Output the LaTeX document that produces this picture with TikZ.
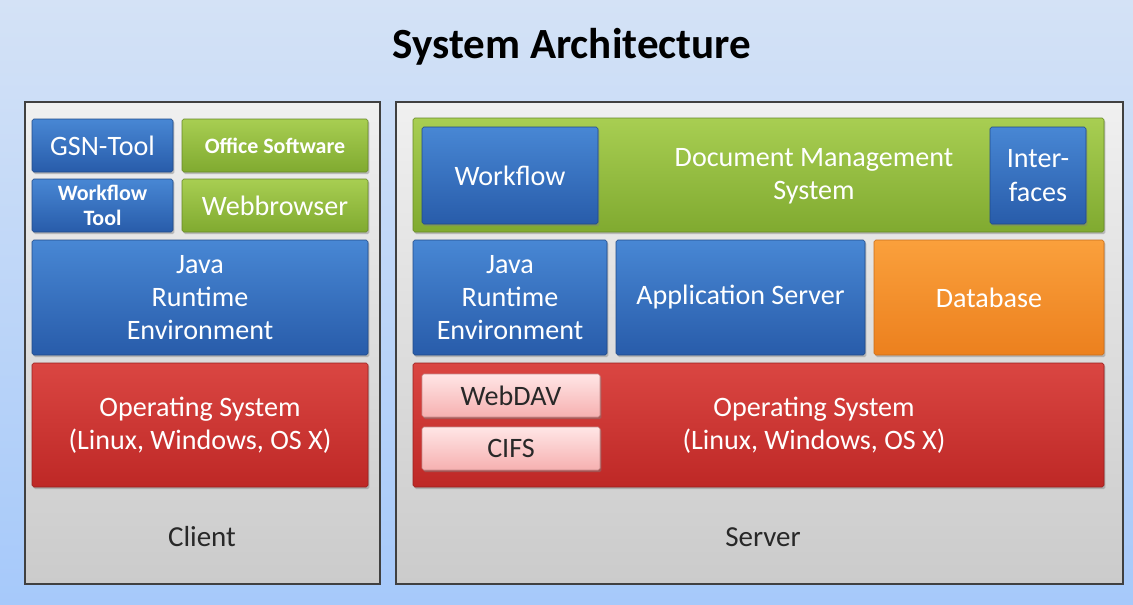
\documentclass[tikz,border=0pt]{standalone}
\usepackage{fontspec}
\setmainfont{Carlito}
\usetikzlibrary{shadows}
\definecolor{bgtop}{RGB}{212,226,246}
\definecolor{bgbot}{RGB}{166,201,250}
\definecolor{paneltop}{RGB}{240,240,240}
\definecolor{panelbot}{RGB}{203,203,203}
\definecolor{bluetop}{RGB}{72,135,212}
\definecolor{bluebot}{RGB}{40,92,170}
\definecolor{greentop}{RGB}{168,206,82}
\definecolor{greenbot}{RGB}{128,170,48}
\definecolor{orangetop}{RGB}{250,160,60}
\definecolor{orangebot}{RGB}{236,128,30}
\definecolor{redtop}{RGB}{218,70,66}
\definecolor{redbot}{RGB}{190,40,38}
\definecolor{pinktop}{RGB}{255,230,230}
\definecolor{pinkbot}{RGB}{246,176,176}
\definecolor{labelgray}{RGB}{40,40,40}

\begin{document}
\begin{tikzpicture}[
    x=0.02cm, y=-0.02cm,
    panel/.style={rectangle, draw=black!75, line width=0.6pt, top color=paneltop, bottom color=panelbot, inner sep=0pt},
    boxtext/.style={inner sep=0pt, text=white, align=center, font=\fontsize{16}{19}\selectfont},
    box/.style={boxtext, rectangle, rounded corners=1pt,
        drop shadow={shadow xshift=0.8pt, shadow yshift=-1.2pt, opacity=0.45}},
    bluebox/.style={box, top color=bluetop, bottom color=bluebot, draw=bluebot!80!black, line width=0.3pt},
    greenbox/.style={box, top color=greentop, bottom color=greenbot, draw=greenbot!80!black, line width=0.3pt},
    orangebox/.style={box, top color=orangetop, bottom color=orangebot, draw=orangebot!85!black, line width=0.3pt},
    redbox/.style={box, top color=redtop, bottom color=redbot, draw=redbot!80!black, line width=0.3pt},
    pinkbox/.style={box, top color=pinktop, bottom color=pinkbot, draw=pinkbot!80!black, line width=0.3pt, text=labelgray},
    small/.style={font=\bfseries\fontsize{12.5}{14.5}\selectfont},
    tag/.style={text=labelgray, font=\fontsize{16.5}{19}\selectfont}
]
    % Background
    \fill[top color=bgtop, bottom color=bgbot] (0,0) rectangle (1133,605);
    \useasboundingbox (0,0) rectangle (1133,605);
    \node[font=\bfseries\fontsize{24.5}{28}\selectfont, text=black] (title) at (572,47) {System Architecture};

    % Client side
    \node[panel, minimum width=355*0.02cm, minimum height=482*0.02cm] (client) at (202.5,343) {};
    \node[bluebox, minimum width=141*0.02cm, minimum height=53*0.02cm] (gsn) at (102.5,145.5) {GSN-Tool};
    \node[greenbox, small, minimum width=186*0.02cm, minimum height=53*0.02cm] (office) at (275,145.5) {Office Software};
    \node[bluebox, small, minimum width=141*0.02cm, minimum height=53*0.02cm] (wftool) at (102.5,205.5) {Workflow\\Tool};
    \node[greenbox, minimum width=186*0.02cm, minimum height=53*0.02cm] (browser) at (275,205.5) {Webbrowser};
    \node[bluebox, minimum width=336*0.02cm, minimum height=115*0.02cm] (jreclient) at (200,297.5) {Java\\Runtime\\Environment};
    \node[redbox, minimum width=336*0.02cm, minimum height=124*0.02cm] (osclient) at (200,425) {Operating System\\(Linux, Windows, OS X)};
    \node[tag] (clientlabel) at (202,537) {Client};

    % Server side
    \node[panel, minimum width=727*0.02cm, minimum height=482*0.02cm] (server) at (759.5,343) {};
    \node[greenbox, minimum width=691*0.02cm, minimum height=114*0.02cm] (dms) at (758.5,175) {};
    \node[boxtext] (dmstext) at (814,176) {Document Management\\System};
    \node[bluebox, minimum width=176*0.02cm, minimum height=97*0.02cm] (workflow) at (510,175.5) {Workflow};
    \node[bluebox, minimum width=96*0.02cm, minimum height=97*0.02cm] (interfaces) at (1038,175.5) {Inter-\\faces};
    \node[bluebox, minimum width=194*0.02cm, minimum height=115*0.02cm] (jreserver) at (510,297.5) {Java\\Runtime\\Environment};
    \node[bluebox, minimum width=249*0.02cm, minimum height=115*0.02cm] (appserver) at (740.5,297.5) {Application Server};
    \node[orangebox, minimum width=230*0.02cm, minimum height=115*0.02cm] (database) at (989,297.5) {Database};
    \node[redbox, minimum width=691*0.02cm, minimum height=124*0.02cm] (osserver) at (758.5,425) {};
    \node[boxtext] (ostext) at (814,425) {Operating System\\(Linux, Windows, OS X)};
    \node[pinkbox, minimum width=178*0.02cm, minimum height=43*0.02cm] (webdav) at (511,395.5) {WebDAV};
    \node[pinkbox, minimum width=178*0.02cm, minimum height=43*0.02cm] (cifs) at (511,448.5) {CIFS};
    \node[tag] (serverlabel) at (763,537) {Server};
\end{tikzpicture}
\end{document}
